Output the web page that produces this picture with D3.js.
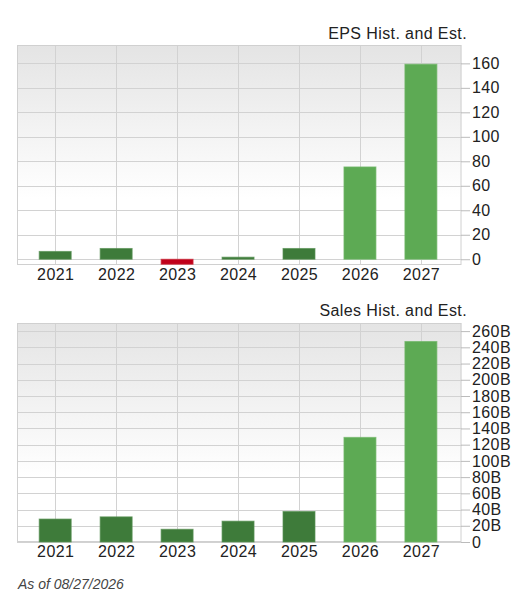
<!DOCTYPE html>
<html>
<head>
<meta charset="utf-8">
<script src="https://cdn.jsdelivr.net/npm/d3@7"></script>
<style>
  html, body { margin: 0; padding: 0; background: #fff; }
  svg { display: block; }
</style>
</head>
<body>
<svg id="chart" width="530" height="612"></svg>
<script>
// ---- Data ----
const years = ["2021", "2022", "2023", "2024", "2025", "2026", "2027"];
const isEstimate = [false, false, false, false, false, true, true];
const epsValues = [6.4, 8.8, -4.1, 1.7, 8.8, 75.4, 159.3];
const salesValues = [28.3, 31.0, 15.7, 25.7, 37.6, 129.0, 247.2]; // billions
const epsTicks = [0, 20, 40, 60, 80, 100, 120, 140, 160];
const salesTicks = [0, 20, 40, 60, 80, 100, 120, 140, 160, 180, 200, 220, 240, 260];
const epsTitle = "EPS Hist. and Est.";
const salesTitle = "Sales Hist. and Est.";
const footnote = "As of 08/27/2026";

const svg = d3.select("#chart");
const defs = svg.append("defs");
const grad = defs.append("linearGradient").attr("id", "bg").attr("x1", 0).attr("y1", 0).attr("x2", 0).attr("y2", 1);
grad.append("stop").attr("offset", "0%").attr("stop-color", "#e4e4e4");
grad.append("stop").attr("offset", "70%").attr("stop-color", "#ffffff");
grad.append("stop").attr("offset", "100%").attr("stop-color", "#ffffff");

const FONT = "'Liberation Sans', Arial, Helvetica, sans-serif";
const COL_HIST = "#3e7b3a";
const COL_EST = "#5daa54";
const COL_NEG = "#c0001a";

function drawPanel(opts) {
  const { top, bottom, left, right, domain, values, ticks, fmt, title, titleY } = opts;
  const g = svg.append("g");

  const x = d3.scalePoint().domain(years).range([left + 38.2, right - 40.6]);
  const y = d3.scaleLinear().domain(domain).range([bottom, top]);
  const bw = 32;

  // background
  g.append("rect").attr("x", left).attr("y", top).attr("width", right - left).attr("height", bottom - top)
    .attr("fill", "url(#bg)");

  // horizontal gridlines
  g.append("g").selectAll("line").data(ticks).join("line")
    .attr("x1", left).attr("x2", right)
    .attr("y1", d => Math.round(y(d)) + 0.5).attr("y2", d => Math.round(y(d)) + 0.5)
    .attr("stroke", "#d2d2d2").attr("stroke-width", 1);

  // vertical gridlines
  g.append("g").selectAll("line").data(years).join("line")
    .attr("x1", d => Math.round(x(d)) + 0.5).attr("x2", d => Math.round(x(d)) + 0.5)
    .attr("y1", top).attr("y2", bottom)
    .attr("stroke", "#d2d2d2").attr("stroke-width", 1);

  // border
  g.append("rect").attr("x", left + 0.5).attr("y", top + 0.5).attr("width", right - left - 1).attr("height", bottom - top - 1)
    .attr("fill", "none").attr("stroke", "#d0d0d0");

  // bars
  g.append("g").selectAll("rect").data(values).join("rect")
    .attr("x", (d, i) => x(years[i]) - bw / 2)
    .attr("width", bw)
    .attr("y", d => y(Math.max(0, d)))
    .attr("height", d => Math.abs(y(d) - y(0)))
    .attr("fill", (d, i) => d < 0 ? COL_NEG : (isEstimate[i] ? COL_EST : COL_HIST))
    .attr("stroke", (d, i) => d < 0 ? "#d03040" : (isEstimate[i] ? "#72b86a" : "#5a9356"))
    .attr("stroke-width", 1)
    .attr("stroke-opacity", 0.7);

  // right axis
  const yAxis = d3.axisRight(y).tickValues(ticks).tickFormat(fmt).tickSizeInner(9).tickSizeOuter(0).tickPadding(2);
  const ax = g.append("g").attr("transform", `translate(${right - 0.5},0)`).call(yAxis);
  ax.select(".domain").remove();
  ax.selectAll(".tick line").attr("stroke", "#bbbbbb");
  ax.selectAll(".tick text").attr("fill", "#222").style("font-family", FONT).style("font-size", "16px")
    .style("letter-spacing", "0.4px");

  // bottom axis labels
  const xAxis = d3.axisBottom(x).tickSize(0).tickPadding(0);
  const bx = g.append("g").attr("transform", `translate(0,${bottom})`).call(xAxis);
  bx.select(".domain").remove();
  bx.selectAll(".tick text").attr("fill", "#222").attr("dy", null).attr("y", 14.5)
    .style("font-family", FONT).style("font-size", "16px").style("letter-spacing", "0.4px");

  // title
  g.append("text").attr("x", 467).attr("y", titleY).attr("text-anchor", "end")
    .attr("fill", "#222").style("font-family", FONT).style("font-size", "16px").style("letter-spacing", "0.4px")
    .text(title);
}

drawPanel({
  top: 45, bottom: 265, left: 17, right: 461.5,
  domain: [-4.7, 175], values: epsValues, ticks: epsTicks,
  fmt: d => String(d), title: epsTitle, titleY: 38.5
});

drawPanel({
  top: 323, bottom: 542, left: 17, right: 461.5,
  domain: [0, 270], values: salesValues, ticks: salesTicks,
  fmt: d => d === 0 ? "0" : d + "B", title: salesTitle, titleY: 315.5
});

svg.append("text").attr("x", 18).attr("y", 589)
  .attr("fill", "#444").style("font-family", FONT).style("font-size", "14px").style("font-style", "italic")
  .text(footnote);
</script>
</body>
</html>
